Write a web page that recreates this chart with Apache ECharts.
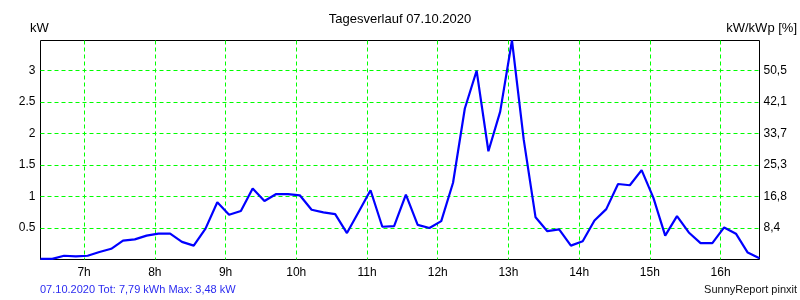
<!DOCTYPE html>
<html>
<head>
<meta charset="utf-8">
<script src="https://cdn.jsdelivr.net/npm/echarts@6/dist/echarts.min.js"></script>
<style>
html,body{margin:0;padding:0;background:#fff;}
#chart{width:800px;height:300px;}
</style>
</head>
<body>
<div id="chart"></div>
<script>
// Sample times (10-minute steps)
const times = ['06:23','06:33','06:43','06:53','07:03','07:13','07:23','07:33','07:43','07:53',
  '08:03','08:13','08:23','08:33','08:43','08:53','09:03','09:13','09:23','09:33',
  '09:43','09:53','10:03','10:13','10:23','10:33','10:43','10:53','11:03','11:13',
  '11:23','11:33','11:43','11:53','12:03','12:13','12:23','12:33','12:43','12:53',
  '13:03','13:13','13:23','13:33','13:43','13:53','14:03','14:13','14:23','14:33',
  '14:43','14:53','15:03','15:13','15:23','15:33','15:43','15:53','16:03','16:13',
  '16:23','16:33'];
// Power in kW
const powerKW = [0.01,0.01,0.06,0.05,0.06,0.12,0.17,0.30,0.32,0.38,
  0.41,0.41,0.28,0.22,0.49,0.91,0.71,0.77,1.13,0.93,
  1.04,1.04,1.02,0.79,0.75,0.72,0.42,0.76,1.10,0.52,
  0.53,1.03,0.55,0.50,0.61,1.22,2.40,3.00,1.72,2.35,
  3.48,1.90,0.67,0.45,0.48,0.22,0.29,0.62,0.80,1.20,
  1.18,1.42,0.98,0.38,0.69,0.43,0.26,0.26,0.51,0.41,
  0.11,0.02];
// Axis ticks
const hourTicks = [7,8,9,10,11,12,13,14,15,16];
const hourLabels = ['7h','8h','9h','10h','11h','12h','13h','14h','15h','16h'];
const leftTicks = [0.5,1,1.5,2,2.5,3];
const leftLabels = ['0.5','1','1.5','2','2.5','3'];
const rightLabels = ['8,4','16,8','25,3','33,7','42,1','50,5'];
const xStart = '06:23', xEnd = '16:33';
const yMax = 3.48;
const titleText = 'Tagesverlauf 07.10.2020';
const footLeft = '07.10.2020 Tot: 7,79 kWh Max: 3,48 kW';
const footRight = 'SunnyReport pinxit';

function toMin(s){ const p = s.split(':'); return (+p[0])*60 + (+p[1]); }
const data = times.map((t,i) => [toMin(t), powerKW[i]]);
const hourMins = hourTicks.map(h => h*60);

const FONT = "'Liberation Sans', Arial, sans-serif";
const chart = echarts.init(document.getElementById('chart'), null, {renderer:'canvas'});
chart.setOption({
  animation:false,
  backgroundColor:'#fff',
  textStyle:{fontFamily:FONT},
  title:[
    {text:titleText, left:'center', top:13, textStyle:{fontSize:13, fontWeight:'normal', color:'#000', fontFamily:FONT}, padding:0},
    {text:'kW', left:30, top:22, textStyle:{fontSize:13, fontWeight:'normal', color:'#000', fontFamily:FONT}, padding:0},
    {text:'kW/kWp [%]', right:3, top:22, textStyle:{fontSize:13, fontWeight:'normal', color:'#000', fontFamily:FONT}, padding:0},
    {text:footLeft, left:40, top:284, textStyle:{fontSize:11, fontWeight:'normal', color:'#2b2bf0', fontFamily:FONT}, padding:0},
    {text:footRight, right:3, top:284, textStyle:{fontSize:11, fontWeight:'normal', color:'#111', fontFamily:FONT}, padding:0}
  ],
  grid:{left:40.5, right:40.5, top:40.5, bottom:40.5, show:true, borderColor:'#000', borderWidth:1, backgroundColor:'#fff'},
  xAxis:{
    type:'value', min:toMin(xStart), max:toMin(xEnd),
    axisLine:{show:false},
    axisTick:{show:false, customValues:hourMins},
    axisLabel:{customValues:hourMins, fontSize:12, color:'#000', margin:7, fontFamily:FONT,
      formatter:v => { const i = hourMins.indexOf(v); return i>=0 ? hourLabels[i] : ''; }},
    splitLine:{show:true, lineStyle:{color:'#00ff00', type:[4,3], width:1}}
  },
  yAxis:[
    {type:'value', min:0, max:yMax, position:'left',
      axisLine:{show:false}, axisTick:{show:false, customValues:leftTicks},
      axisLabel:{customValues:leftTicks, fontSize:12, color:'#000', margin:5, fontFamily:FONT,
        formatter:v => { const i = leftTicks.indexOf(v); return i>=0 ? leftLabels[i] : ''; }},
      splitLine:{show:true, lineStyle:{color:'#00ff00', type:[4,3], width:1}}
    },
    {type:'value', min:0, max:yMax, position:'right',
      axisLine:{show:false}, axisTick:{show:false, customValues:leftTicks},
      axisLabel:{customValues:leftTicks, fontSize:12, color:'#000', margin:4, fontFamily:FONT,
        formatter:v => { const i = leftTicks.indexOf(v); return i>=0 ? rightLabels[i] : ''; }},
      splitLine:{show:false}
    }
  ],
  series:[{
    type:'line', data:data, yAxisIndex:0, showSymbol:false, symbol:'none',
    lineStyle:{color:'#0000ff', width:2.2}, itemStyle:{color:'#0000ff'}, z:5
  }]
});
</script>
</body>
</html>
